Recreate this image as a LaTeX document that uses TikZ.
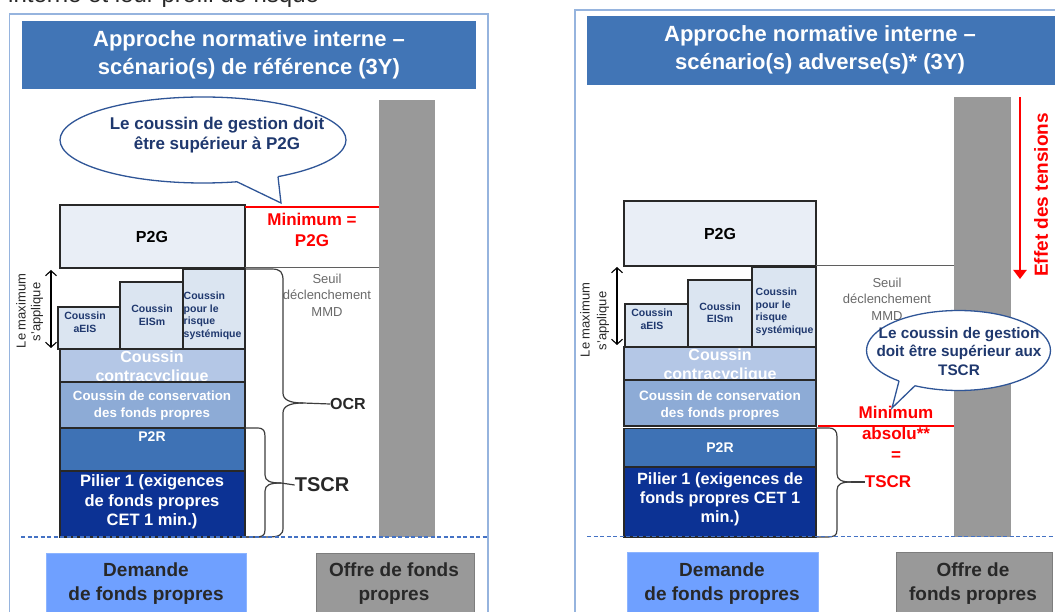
\documentclass[tikz,border=0pt]{standalone}
\usepackage{fontspec}
\setmainfont{Liberation Sans}
\usetikzlibrary{arrows.meta,fit}
\definecolor{titleblue}{RGB}{65,117,182}
\definecolor{framecol}{RGB}{150,180,222}
\definecolor{barGrey}{RGB}{153,153,153}
\definecolor{boxline}{RGB}{40,40,40}
\definecolor{p2gfill}{RGB}{233,238,246}
\definecolor{smallfill}{RGB}{219,229,241}
\definecolor{ccfill}{RGB}{180,199,230}
\definecolor{consfill}{RGB}{141,171,214}
\definecolor{p2rfill}{RGB}{62,114,181}
\definecolor{pilfill}{RGB}{12,50,148}
\definecolor{demfill}{RGB}{111,160,255}
\definecolor{demline}{RGB}{140,180,255}
\definecolor{offline}{RGB}{125,125,125}
\definecolor{navytext}{RGB}{31,56,110}
\definecolor{callline}{RGB}{47,85,151}
\definecolor{darktext}{RGB}{40,40,40}
\definecolor{seuilgrey}{RGB}{105,105,105}
\definecolor{thinline}{RGB}{95,95,95}
\definecolor{dashblue}{RGB}{68,114,196}
\definecolor{pureRed}{RGB}{255,0,0}
\newcommand{\fsz}[2]{\fontsize{#1}{#2}\selectfont}
\tikzset{
  frame/.style={draw=framecol, line width=1.5pt},
  titlebar/.style={fill=titleblue, inner sep=0},
  titletext/.style={text=white, font=\fsz{22}{28}\bfseries, align=center, inner sep=0},
  greybar/.style={fill=barGrey, inner sep=0},
  stackbox/.style={draw=boxline, line width=1.3pt, inner sep=0},
  smalltext/.style={text=navytext, font=\fsz{10.5}{12.5}\bfseries, inner sep=0},
  whitetext/.style={text=white, inner sep=0, align=center},
  seuil/.style={text=seuilgrey, font=\fsz{13}{16.5}, align=center, inner sep=0},
  redtext/.style={text=pureRed, font=\fsz{17}{21}\bfseries, align=center, inner sep=0},
  redline/.style={draw=pureRed, line width=2.5pt},
  greyline/.style={draw=thinline, line width=1pt},
  bracepath/.style={draw=darktext!90, line width=1.2pt},
  dashline/.style={draw=dashblue, line width=1.3pt, dash pattern=on 4pt off 2.5pt},
  bottomtext/.style={text=darktext, font=\fsz{19}{24}\bfseries, align=center, inner sep=0},
  rottext/.style={text=darktext, font=\fsz{13}{15}, rotate=90, inner sep=0},
  dblarrow/.style={draw=black, line width=1.1pt, {Straight Barb[length=5pt,width=11pt]}-{Straight Barb[length=5pt,width=11pt]}},
  callout/.style={draw=callline, line width=1.3pt, fill=white},
  calltext/.style={text=navytext, align=center, inner sep=0},
}
\begin{document}
\begin{tikzpicture}[x=1pt,y=-1pt]
\useasboundingbox (0,0) rectangle (1055,612);
\clip (0,0) rectangle (1055,612);

% heading text cut at the top
\node[anchor=base west, text=darktext, font=\fsz{24}{28}, inner sep=0] (heading) at (8,3) {interne et leur profil de risque};

% ================= LEFT PANEL =================
\draw[frame] (9.5,14) rectangle (488,640);
\node[titlebar, fit={(22,21)(476,89)}] (ltitle) {};
\node[titletext] (ltitletxt) at (249,55) {Approche normative interne –\\scénario(s) de référence (3Y)};

\node[greybar, fit={(379,100)(435,537)}] (lbar) {};

% stack
\node[stackbox, fill=p2gfill, fit={(60,205)(245,268)}] (lp2g) {};
\node[text=black, font=\fsz{16}{18}\bfseries, inner sep=0] (lp2gt) at (152,237) {P2G};
\node[stackbox, fill=smallfill, fit={(58,307)(120,349)}] (laeis) {};
\node[stackbox, fill=smallfill, fit={(120,282)(183,349)}] (leism) {};
\node[stackbox, fill=smallfill, fit={(183,269)(245,349)}] (lsys) {};
\node[smalltext, align=center] (laeist) at (85,322) {Coussin\\aEIS};
\node[smalltext, align=center] (leismt) at (152,315) {Coussin\\EISm};
\node[smalltext, align=left, anchor=west] (lsyst) at (183.5,316) {Coussin\\pour le\\risque\\systémique};
\node[stackbox, fill=ccfill, fit={(60,349)(245,382)}] (lcc) {};
\node[whitetext, font=\fsz{16}{19}\bfseries] (lcct) at (152,368) {Coussin\\contracyclique};
\node[stackbox, fill=consfill, fit={(60,382)(245,428)}] (lcons) {};
\node[whitetext, font=\fsz{13.3}{17}\bfseries] (lconst) at (152,406) {Coussin de conservation\\des fonds propres};
\node[stackbox, fill=p2rfill, fit={(60,428)(245,471)}] (lp2r) {};
\node[whitetext, font=\fsz{14}{16}\bfseries] (lp2rt) at (152,437) {P2R};
\node[stackbox, fill=pilfill, fit={(60,471)(245,537)}] (lpil) {};
\node[whitetext, font=\fsz{16.5}{19.5}\bfseries] (lpilt) at (152,502) {Pilier 1 (exigences\\de fonds propres\\CET 1 min.)};

% lines to the bar
\coordinate (lred0) at (245,207);
\coordinate (lred1) at (379,207);
\draw[redline] (lred0) -- (lred1);
\node[redtext] (lmin) at (312,230) {Minimum =\\P2G};
\coordinate (lgl0) at (245,268);
\coordinate (lgl1) at (379,268);
\draw[greyline] (lgl0) -- (lgl1);
\node[seuil] (lseuil) at (327,295) {Seuil\\déclenchement\\MMD};

% maximum arrow
\coordinate (lma) at (51,270);
\coordinate (lmb) at (51,348);
\draw[dblarrow] (lma) -- (lmb);
\node[rottext] (lmax1) at (21,311) {Le maximum};
\node[rottext] (lmax2) at (37,312) {s'applique};

% OCR brace
\coordinate (ocrtip) at (303,403);
\draw[bracepath] (245,269) -- (271,269) .. controls (281,269) and (283,272) .. (283,281) -- (283,393) .. controls (283,400) and (290,403) .. (ocrtip);
\draw[bracepath] (ocrtip) .. controls (290,403) and (283,406) .. (283,413) -- (283,528) .. controls (283,535) and (279,537) .. (268,537) -- (245,537);
\node[text=darktext, font=\fsz{16}{18}\bfseries, inner sep=0] (locr) at (348,404) {OCR};
\draw[bracepath] (ocrtip) -- (locr.west);

% TSCR brace
\coordinate (ltstip) at (281,483);
\draw[bracepath] (245,428) -- (257,428) .. controls (264,428) and (265,431) .. (265,437) -- (265,475) .. controls (265,481) and (270,483) .. (ltstip);
\draw[bracepath] (ltstip) .. controls (270,483) and (265,485) .. (265,491) -- (265,530) .. controls (265,536) and (262,537) .. (255,537) -- (245,537);
\node[text=darktext, font=\fsz{20}{22}\bfseries, inner sep=0] (ltscr) at (322,485) {TSCR};
\draw[bracepath] (ltstip) -- (ltscr.west);

% callout left
\path[callout] (203,140) ellipse [x radius=143, y radius=43];
\coordinate (lca) at (237,181.8);
\coordinate (lctip) at (281,203);
\coordinate (lcb) at (278,176.6);
\fill[white] (lca) -- (lctip) -- (lcb) -- (276,172) -- (240,176) -- cycle;
\draw[draw=callline, line width=1.3pt, line join=miter] (lca) -- (lctip) -- (lcb);
\node[calltext, font=\fsz{17}{20}\bfseries] (lcallt) at (217,135) {Le coussin de gestion doit\\être supérieur à P2G};

% dashed base line
\coordinate (ld0) at (21,537);
\coordinate (ld1) at (487,537);
\draw[dashline] (ld0) -- (ld1);

% bottom boxes
\node[fill=demfill, draw=demline, line width=0.8pt, inner sep=0, fit={(46,553)(246,625)}] (ldem) {};
\node[bottomtext] (ldemt) at (146,584) {Demande\\de fonds propres};
\node[fill=barGrey, draw=offline, line width=1pt, inner sep=0, fit={(316,553)(474,625)}] (loff) {};
\node[bottomtext] (lofft) at (394,584) {Offre de fonds\\propres};

% ================= RIGHT PANEL =================
\draw[frame] (575,10) rectangle (1075,640);
\node[titlebar, fit={(587,16)(1075,85)}] (rtitle) {};
\node[titletext] (rtitletxt) at (820,50) {Approche normative interne –\\scénario(s) adverse(s)* (3Y)};

\node[greybar, fit={(954,97)(1011,537)}] (rbar) {};

\coordinate (ra0) at (1020,97);
\coordinate (ra1) at (1020,279);
\draw[draw=pureRed, line width=2.8pt, -{Triangle[length=9pt,width=13pt]}] (ra0) -- (ra1);
\node[text=pureRed, font=\fsz{19}{21}\bfseries, rotate=90, inner sep=0] (reffet) at (1041,195) {Effet des tensions};

\node[stackbox, fill=p2gfill, fit={(624,201)(816,266)}] (rp2g) {};
\node[text=black, font=\fsz{16}{18}\bfseries, inner sep=0] (rp2gt) at (720,234) {P2G};
\node[stackbox, fill=smallfill, fit={(625,304)(688,347)}] (raeis) {};
\node[stackbox, fill=smallfill, fit={(688,280)(752,347)}] (reism) {};
\node[stackbox, fill=smallfill, fit={(752,267)(816,347)}] (rsys) {};
\node[smalltext, align=center] (raeist) at (652,319) {Coussin\\aEIS};
\node[smalltext, align=center] (reismt) at (720,312.5) {Coussin\\EISm};
\node[smalltext, align=left, anchor=west] (rsyst) at (755.5,312) {Coussin\\pour le\\risque\\systémique};
\node[stackbox, fill=ccfill, fit={(624,347)(816,380)}] (rcc) {};
\node[whitetext, font=\fsz{16}{18.5}\bfseries] (rcct) at (720,366) {Coussin\\contracyclique};
\node[stackbox, fill=consfill, fit={(624,380)(816,426)}] (rcons) {};
\node[whitetext, font=\fsz{13.6}{17}\bfseries] (rconst) at (720,405) {Coussin de conservation\\des fonds propres};
\node[stackbox, fill=p2rfill, fit={(624,428.5)(816,467)}] (rp2r) {};
\node[whitetext, font=\fsz{14}{16}\bfseries] (rp2rt) at (720,448) {P2R};
\node[stackbox, fill=pilfill, fit={(624,467)(816,537)}] (rpil) {};
\node[whitetext, font=\fsz{16.3}{19}\bfseries] (rpilt) at (720,499) {Pilier 1 (exigences de\\fonds propres CET 1\\min.)};

\coordinate (rgl0) at (816,266);
\coordinate (rgl1) at (954,266);
\draw[greyline] (rgl0) -- (rgl1);
\node[seuil] (rseuil) at (887,299) {Seuil\\déclenchement\\MMD};

\coordinate (rma) at (617,267);
\coordinate (rmb) at (617,345);
\draw[dblarrow] (rma) -- (rmb);
\node[rottext] (rmax1) at (585,320) {Le maximum};
\node[rottext] (rmax2) at (603,321) {s'applique};

% callout right
\path[callout] (958.5,350.5) ellipse [x radius=92, y radius=40];
\coordinate (rca) at (899,381);
\coordinate (rctip) at (892,408);
\coordinate (rcb) at (915,385.7);
\fill[white] (rca) -- (rctip) -- (rcb) -- (915,380) -- (901,377) -- cycle;
\draw[draw=callline, line width=1.3pt, line join=miter] (rca) -- (rctip) -- (rcb);
\node[calltext, font=\fsz{15.3}{18.5}\bfseries] (rcallt) at (959,351.5) {Le coussin de gestion\\doit être supérieur aux\\TSCR};

% red minimum
\coordinate (rred0) at (818,426);
\coordinate (rred1) at (954,426);
\draw[redline] (rred0) -- (rred1);
\node[redtext, font=\fsz{17}{21}\bfseries] (rmin) at (896,433) {Minimum\\absolu**\\=};

% TSCR brace right
\coordinate (rtstip) at (851,482);
\draw[bracepath] (816,428) -- (828,428) .. controls (835,428) and (837,431) .. (837,437) -- (837,474) .. controls (837,480) and (842,482) .. (rtstip);
\draw[bracepath] (rtstip) .. controls (842,482) and (837,484) .. (837,490) -- (837,530) .. controls (837,536) and (834,537) .. (826,537) -- (816,537);
\node[text=pureRed, font=\fsz{17}{19}\bfseries, inner sep=0] (rtscr) at (888,482) {TSCR};
\draw[bracepath] (rtstip) -- (rtscr.west);

\coordinate (rd0) at (587,536.5);
\coordinate (rd1) at (1055,536.5);
\draw[dashline] (rd0) -- (rd1);

\node[fill=demfill, draw=demline, line width=0.8pt, inner sep=0, fit={(627,552)(818,625)}] (rdem) {};
\node[bottomtext] (rdemt) at (722,584) {Demande\\de fonds propres};
\node[fill=barGrey, draw=offline, line width=1pt, inner sep=0, fit={(896,552)(1052,625)}] (roff) {};
\node[bottomtext] (rofft) at (973,584) {Offre de\\fonds propres};
\end{tikzpicture}
\end{document}
